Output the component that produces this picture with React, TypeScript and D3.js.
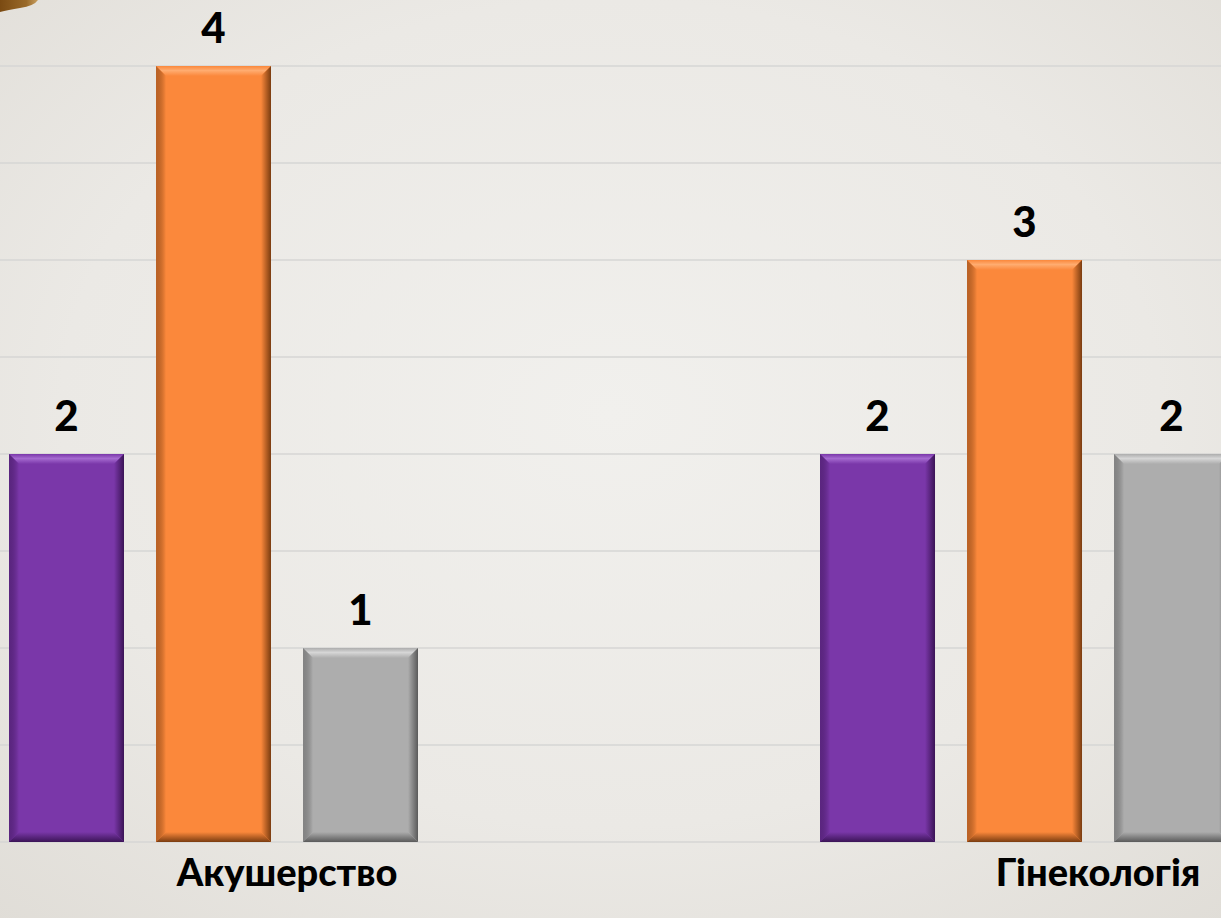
import React from "react";
import * as d3 from "d3";

const categories = ["Акушерство", "Гінекологія"];
const seriesNames = ["Серія 1", "Серія 2", "Серія 3"];
const seriesValues = [
  [2, 2],
  [4, 3],
  [1, 2],
];
const gridTicks = [0, 0.5, 1, 1.5, 2, 2.5, 3, 3.5, 4];
const seriesColors = ["#7a37a9", "#fb883b", "#adadad"];
const seriesLight = ["#a56ad0", "#ffac70", "#d6d6d6"];
const seriesDark = ["#3b1456", "#7a3c10", "#5a5a5a"];

const W = 1221;
const H = 918;

export default function App() {
  const y = d3.scaleLinear().domain([0, 4]).range([842, 66]);
  const x0 = d3.scaleBand<string>().domain(categories).range([9, 1229]).paddingInner(0.4957).paddingOuter(0);
  const x1 = d3.scaleBand<string>().domain(seriesNames).range([0, 409]).paddingInner(32 / 147).paddingOuter(0);
  const bw = x1.bandwidth();
  const b = 10;
  const font = "Lato, Carlito, 'Open Sans', sans-serif";

  const bars: any[] = [];
  categories.forEach((c, ci) => {
    seriesNames.forEach((s, si) => {
      const v = seriesValues[si][ci];
      const x = (x0(c) as number) + (x1(s) as number);
      const yt = y(v);
      const yb = y(0);
      bars.push({ key: c + s, x, yt, yb, v, si });
    });
  });

  return (
    <svg width={W} height={H} style={{ position: "absolute", left: 0, top: 0, display: "block" }}>
      <defs>
        <radialGradient id="bg" cx="50%" cy="45%" r="75%">
          <stop offset="0%" stopColor="#f1f0ed" />
          <stop offset="60%" stopColor="#ebe9e5" />
          <stop offset="100%" stopColor="#e0ddd7" />
        </radialGradient>
        {seriesNames.map((s, i) => (
          <g key={s}>
            <linearGradient id={`top${i}`} x1="0" y1="0" x2="0" y2="1">
              <stop offset="0%" stopColor={seriesColors[i]} />
              <stop offset="45%" stopColor={seriesLight[i]} />
              <stop offset="100%" stopColor={seriesColors[i]} />
            </linearGradient>
            <linearGradient id={`right${i}`} x1="0" y1="0" x2="1" y2="0">
              <stop offset="0%" stopColor={seriesColors[i]} />
              <stop offset="100%" stopColor={seriesDark[i]} />
            </linearGradient>
            <linearGradient id={`left${i}`} x1="0" y1="0" x2="1" y2="0">
              <stop offset="0%" stopColor={seriesDark[i]} stopOpacity={0.5} />
              <stop offset="100%" stopColor={seriesColors[i]} />
            </linearGradient>
            <linearGradient id={`bot${i}`} x1="0" y1="0" x2="0" y2="1">
              <stop offset="0%" stopColor={seriesColors[i]} />
              <stop offset="100%" stopColor={seriesDark[i]} />
            </linearGradient>
          </g>
        ))}
        <linearGradient id="brown" x1="0" y1="0" x2="1" y2="0">
          <stop offset="0%" stopColor="#7a4a12" />
          <stop offset="70%" stopColor="#9a6a2a" />
          <stop offset="100%" stopColor="#c9a060" />
        </linearGradient>
      </defs>
      <rect x={0} y={0} width={W} height={H} fill="url(#bg)" />
      <path d="M0,0 L38,0 Q34,6 20,8 Q8,10 0,12 Z" fill="url(#brown)" />
      {gridTicks.map((t) => (
        <line key={t} x1={0} x2={W} y1={y(t)} y2={y(t)} stroke="#d6d6d4" strokeWidth={1.5} />
      ))}
      {bars.map((d) => {
        const { x, yt, yb, si } = d;
        const r = x + bw;
        return (
          <g key={d.key}>
            <rect x={x} y={yt} width={bw} height={yb - yt} fill={seriesColors[si]} />
            <polygon points={`${x},${yt} ${r},${yt} ${r - b},${yt + b} ${x + b},${yt + b}`} fill={`url(#top${si})`} />
            <polygon points={`${x},${yt} ${x + b},${yt + b} ${x + b},${yb - b} ${x},${yb}`} fill={`url(#left${si})`} />
            <polygon points={`${r},${yt} ${r},${yb} ${r - b},${yb - b} ${r - b},${yt + b}`} fill={`url(#right${si})`} />
            <polygon points={`${x},${yb} ${r},${yb} ${r - b},${yb - b} ${x + b},${yb - b}`} fill={`url(#bot${si})`} />
            <text
              x={x + bw / 2}
              y={yt - 23}
              textAnchor="middle"
              fontFamily={font}
              fontWeight={900}
              fontSize={42}
              fill="#000"
            >
              {d.v}
            </text>
          </g>
        );
      })}
      {categories.map((c) => (
        <text
          key={c}
          x={(x0(c) as number) + (x1(seriesNames[1]) as number) + bw + 16}
          y={886}
          textAnchor="middle"
          fontFamily={font}
          fontWeight={900}
          fontSize={38}
          fill="#000"
        >
          {c}
        </text>
      ))}
    </svg>
  );
}
